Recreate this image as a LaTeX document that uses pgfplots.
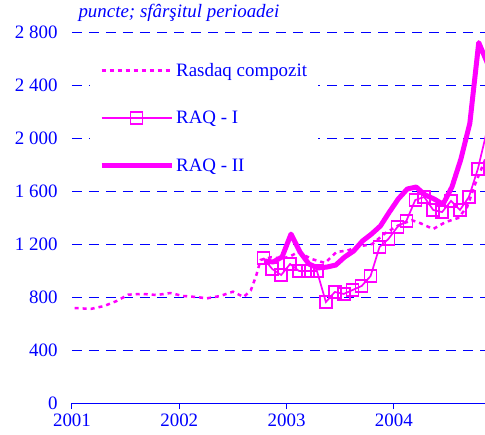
\documentclass[border=0pt]{standalone}
\usepackage{fontspec}
\setmainfont{Liberation Serif}
\usepackage{pgfplots}
\pgfplotsset{compat=1.18}
\definecolor{mag}{RGB}{255,0,255}
\definecolor{bl}{RGB}{0,0,255}
\begin{document}
\begin{tikzpicture}
\begin{axis}[name=ax, scale only axis, width=413bp, height=371bp,
  xmin=0, xmax=46.2, ymin=0, ymax=2800,
  axis lines*=left, axis line style={-},
  x axis line style={bl, line width=1bp},
  y axis line style={draw=none},
  ytick={0,400,...,2800}, xtick={0,12,24,36}, xticklabels={2001,2002,2003,2004},
  ymajorgrids, grid style={bl, dash pattern=on 10bp off 7bp, line width=0.8bp},
  xtick style={bl, line width=1bp}, ytick style={draw=none},
  tick align=outside, major tick length=6bp,
  tick label style={font=\fontsize{19}{21}\selectfont, text=bl},
  yticklabel style={xshift=-5bp},
  xticklabel style={yshift=-4bp, inner sep=1bp},
  /pgf/number format/assume math mode=true,
  /pgf/number format/1000 sep={\ },
  legend style={at={(0.0436,0.945)}, anchor=north west, draw=none, fill=white,
    font=\fontsize{19}{21}\selectfont, text=bl, row sep=15.5bp, inner xsep=9bp, inner ysep=2bp},
  legend cell align=left,
  legend image code/.code={\path[draw=none,fill=none] (0bp,-16bp) rectangle (70bp,16bp);\draw[mark repeat=2,mark phase=2,#1] plot coordinates {(0bp,0bp)(35bp,0bp)(70bp,0bp)};},
]
\addplot[mag, line width=2.5bp, dash pattern=on 4bp off 4bp] coordinates {
(0.3,717)(2.1,710)(3.6,732)(5.0,770)(6.3,818)(7.9,823)(9.5,815)(11.0,830)(12.4,808)(13.9,800)(15.1,790)(16.6,808)(18.0,840)(19.2,800)(20.0,850)(20.6,960)(21.1,1080)(22.3,1100)(23.5,1090)(24.5,1110)(25.3,1140)(26.8,1087)(28.3,1057)(29.6,1140)(30.8,1150)(32.0,1180)(33.6,1200)(35.0,1280)(36.5,1340)(38.0,1380)(38.9,1359)(40.4,1313)(41.8,1366)(43.2,1396)(44.2,1479)(45.1,1653)(46.3,1850)};
\addlegendentry{Rasdaq compozit}
\addplot[mag, line width=1.7bp, mark=square, mark size=6bp, mark options={solid, fill=white, line width=1.5bp}] coordinates {
(21.4,1094)(22.4,1011)(23.4,966)(24.4,1049)(25.4,996)(26.4,996)(27.4,996)(28.4,762)(29.4,838)(30.4,823)(31.4,853)(32.4,883)(33.4,958)(34.4,1177)(35.4,1238)(36.4,1328)(37.4,1374)(38.4,1532)(39.4,1555)(40.4,1457)(41.4,1441)(42.4,1525)(43.4,1457)(44.4,1555)(45.4,1766)(46.4,2050)};
\addlegendentry{RAQ - I}
\addplot[mag, line width=5bp, line join=round] coordinates {
(21.5,1072)(22.5,1064)(23.5,1102)(24.5,1275)(25.5,1140)(26.5,1049)(27.5,1019)(28.5,1026)(29.5,1041)(30.5,1102)(31.5,1147)(32.5,1223)(33.5,1275)(34.5,1336)(35.5,1441)(36.5,1540)(37.5,1615)(38.5,1630)(39.5,1570)(40.5,1540)(41.5,1500)(42.5,1630)(43.5,1840)(44.5,2110)(45.5,2720)(46.5,2560)};
\addlegendentry{RAQ - II}
\end{axis}
\node[anchor=base west, text=bl, font=\fontsize{19}{21}\selectfont\itshape] at ([shift={(3bp,14bp)}]ax.north west) {puncte; sfârşitul perioadei};
\pgfresetboundingbox
\path ([shift={(-72bp,-32bp)}]ax.south west) rectangle ([shift={(0bp,32bp)}]ax.north east);
\end{tikzpicture}
\end{document}
